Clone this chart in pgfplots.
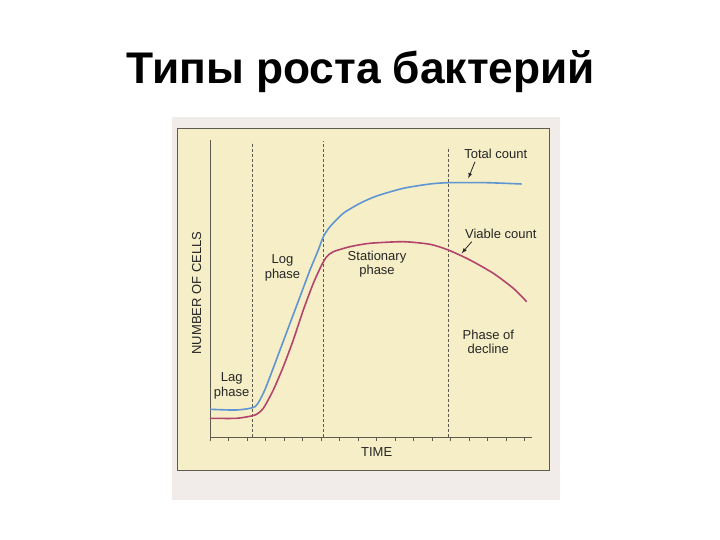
\documentclass[border=0pt]{standalone}
\usepackage{pgfplots}
\pgfplotsset{compat=1.18}
\usepackage{fontspec}
\setmainfont{Liberation Sans}
\definecolor{paper}{HTML}{F1ECE9}
\definecolor{beige}{HTML}{F5EEC6}
\definecolor{frame}{HTML}{5E5A50}
\definecolor{totalc}{HTML}{5E95D2}
\definecolor{viablec}{HTML}{B4446C}
\tikzset{lbl/.style={font=\fontsize{13}{14.5}\selectfont, text=black!85, align=center, inner sep=0pt}}
\begin{document}
\begin{tikzpicture}[x=1pt,y=1pt]
% slide and scanned page
\fill[white] (0,0) rectangle (720,540);
\fill[paper] (172,40) rectangle (560,423);
\filldraw[fill=beige,draw=frame,line width=0.8pt] (177,70) rectangle (549,412);
\node[anchor=base,font=\fontsize{44.3}{50}\selectfont\bfseries] at (360.8,456.7) {Типы роста бактерий};
\begin{axis}[
    at={(210,103)}, anchor=origin,
    x=1pt, y=1pt,
    xmin=0, xmax=322, ymin=0, ymax=297,
    axis x line=bottom, axis y line=left,
    axis line style={-, frame, line width=0.7pt},
    xtick={0,18.5,...,315}, xticklabels={},
    ytick=\empty,
    xtick align=outside, major tick length=4pt,
    tick style={frame, line width=0.6pt},
    clip=false,
]
% phase boundaries
\addplot[frame, densely dashed, line width=0.6pt] coordinates {(42.7,0) (42.7,295)};
\addplot[frame, densely dashed, line width=0.6pt] coordinates {(113.3,0) (113.3,296)};
\addplot[frame, densely dashed, line width=0.6pt] coordinates {(238.3,0) (238.3,290)};
% total count
\addplot[totalc, line width=1.6pt, smooth, tension=0.4] coordinates {
    (0,27.7) (26.7,27) (45,30.3) (53.3,43.7) (60,60.3) (70,87) (80,113.7)
    (90,140.3) (100,167) (108.3,187) (113.3,200.3) (120,210.3) (133.3,223.7)
    (150,233.7) (166.7,241) (193.3,248.7) (220,253) (238.3,254.3)
    (276.7,254.3) (311.7,253)
};
% viable count
\addplot[viablec, line width=1.6pt, smooth, tension=0.4] coordinates {
    (0,18.7) (26.7,18.7) (45,22) (53.3,28.7) (63.3,47) (73.3,70.3) (83.3,97)
    (93.3,127) (103.3,153.7) (111.7,172) (116.7,180.3) (123.3,185.3)
    (140,190.3) (160,193.7) (193.3,195.3) (220,192.7) (238.3,187)
    (260,177) (283.3,163.7) (303.3,148.7) (316.7,135.3)
};
\node[lbl, rotate=90] at (axis cs:-13.3,144) {NUMBER OF CELLS};
\node[lbl] at (axis cs:166.7,-15.5) {TIME};
\node[lbl] at (axis cs:285.8,283) {Total count};
\node[lbl] at (axis cs:290.8,203) {Viable count};
\node[lbl] at (axis cs:167,173) {Stationary\\phase};
\node[lbl] at (axis cs:72.5,169) {Log\\phase};
\node[lbl] at (axis cs:21.7,51) {Lag\\phase};
\node[lbl] at (axis cs:278.3,95.3) {Phase of\\decline};
\draw[-latex, black!85, line width=0.8pt] (axis cs:265,275.3) -- (axis cs:258.3,258.7);
\draw[-latex, black!85, line width=0.8pt] (axis cs:261.7,195.3) -- (axis cs:251.7,183.7);
\end{axis}
\end{tikzpicture}
\end{document}
